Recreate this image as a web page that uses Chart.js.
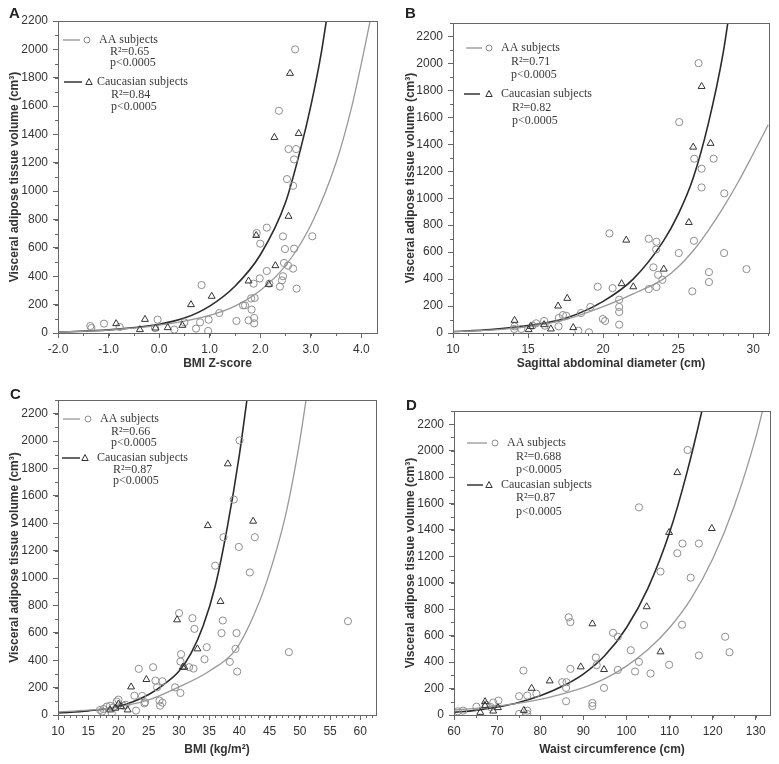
<!DOCTYPE html>
<html>
<head>
<meta charset="utf-8">
<script src="https://cdn.jsdelivr.net/npm/chart.js@4"></script>
<style>
html,body{margin:0;padding:0;background:#fff;}
#wrap{position:relative;width:779px;height:764px;overflow:hidden;}
.p{position:absolute;}
</style>
</head>
<body>
<div id="wrap">
  <div class="p" style="left:0;top:0;width:390px;height:380px;"><canvas id="cA"></canvas></div>
  <div class="p" style="left:390px;top:0;width:389px;height:380px;"><canvas id="cB"></canvas></div>
  <div class="p" style="left:0;top:380px;width:390px;height:384px;"><canvas id="cC"></canvas></div>
  <div class="p" style="left:390px;top:380px;width:389px;height:384px;"><canvas id="cD"></canvas></div>
</div>
<script>
// ---------------- DATA ----------------
const PANEL_LETTERS = ['A', 'B', 'C', 'D'];
const X_TITLES = ['BMI Z-score', 'Sagittal abdominal diameter (cm)', 'BMI (kg/m²)', 'Waist circumference (cm)'];
const Y_TITLE = 'Visceral adipose tissue volume (cm³)';
const SERIES_NAMES = ['AA subjects', 'Caucasian subjects'];
const R2_AA = ['0.65', '0.71', '0.66', '0.688'];
const R2_CAU = ['0.84', '0.82', '0.87', '0.87'];
const P_TEXT = 'p<0.0005';

// Panel A: BMI Z-score
const A_AA = [[-1.36,49],[-1.34,35],[-1.09,66],[-0.78,42],[-0.03,94],[-0.08,35],[0.30,24],[0.50,75],[0.73,31],[0.81,75],[0.84,338],[0.98,94],[0.97,14],[1.19,141],
  [1.53,85],[1.66,195],[1.70,195],[1.77,89],[1.82,244],[1.89,247],[1.83,165],[1.88,106],[1.88,68],[1.87,348],[1.99,385],[1.93,705],[2.0,630],[2.13,743],[2.13,437],[2.18,348],
  [2.39,327],[2.43,371],[2.45,400],[2.45,681],[2.49,592],[2.47,494],[2.55,475],[2.65,454],[2.67,595],[2.72,313],[3.03,682],[2.69,2000],[2.37,1567],[2.56,1297],[2.71,1297],[2.67,1224],[2.53,1085],[2.65,1038]];
const A_CAU = [[-0.85,66],[-0.28,96],[-0.38,24],[-0.07,35],[0.17,38],[0.46,54],[0.63,200],[1.04,259],[1.77,367],[1.92,688],[2.17,343],[2.30,475],[2.56,823],[2.59,1831],[2.28,1379],[2.76,1407]];
const A_FIT_AA = [[-2,7],[-1,20],[0,55],[1,125],[1.5,190],[2,300],[2.5,475],[3,760],[3.5,1200],[3.8,1580],[4.0,1900],[4.2,2250],[4.35,2550]];
const A_FIT_CAU = [[-2,7],[-1,22],[0,62],[0.5,105],[1,190],[1.5,330],[2,550],[2.5,920],[2.8,1300],[3.0,1600],[3.2,1960],[3.35,2300]];

// Panel B: sagittal abdominal diameter
const B_AA = [[26.36,2002],[25.07,1565],[26.07,1293],[27.36,1293],[26.56,1219],[26.56,1080],[28.07,1036],[20.42,739],[23.04,699],[23.55,677],[23.53,620],[26.05,684],[25.04,593],[28.06,593],[29.55,474],
  [23.35,487],[23.66,432],[23.95,395],[23.55,341],[23.04,326],[27.05,452],[27.05,378],[25.94,309],[19.64,343],[20.63,333],[19.15,193],[18.53,148],[17.32,133],[17.54,128],[17.05,111],[17.03,49],
  [16.07,89],[16.12,54],[15.54,72],[15.3,55],[14.55,30],[14.08,30],[14.1,49],[18.35,17],[19.06,5],[19.98,104],[20.13,89],[21.07,247],[21.07,193],[21.07,156],[21.07,62]];
const B_CAU = [[26.56,1829],[26.0,1379],[27.16,1407],[25.71,820],[21.54,689],[24.04,474],[21.23,366],[22.01,343],[17.61,257],[17.0,200],[14.1,94],[15.04,25],[15.18,49],[16.07,62],[16.52,30],[18.01,40]];
const B_FIT_AA = [[10,10],[12.5,22],[15,48],[17.5,100],[20,195],[22,290],[24,400],[25,490],[26,610],[27,760],[28,930],[29,1120],[30,1330],[31,1545]];
const B_FIT_CAU = [[10,10],[12.5,25],[15,55],[17.5,110],[20,235],[22,400],[24,680],[25,880],[26,1150],[27,1550],[28,2080],[28.5,2450]];

// Panel C: BMI
const C_AA = [[40.02,2005],[39.08,1573],[37.37,1298],[42.56,1298],[39.91,1227],[36.0,1090],[41.73,1041],[30.03,744],[32.24,707],[32.57,629],[37.26,690],[37.04,598],[39.53,598],[57.96,685],
  [48.19,459],[39.36,483],[34.6,495],[34.23,407],[38.42,388],[39.64,317],[30.36,444],[30.25,390],[31.69,349],[32.4,339],[29.37,202],[30.25,161],[23.36,337],[25.73,349],[26.12,251],[27.27,246],
  [26.39,202],[23.91,139],[22.64,141],[24.4,93],[24.29,85],[26.78,105],[26.89,68],[27.27,90],[19.99,112],[19.71,98],[18.61,68],[18.06,61],[17.51,44],[16.95,37],[19.16,56],[20.82,68],[22.91,32],[18.9,12],[17.3,25],[21.2,75]];
const C_CAU = [[38.09,1834],[34.78,1383],[42.28,1415],[36.88,829],[29.7,695],[33.07,483],[30.64,349],[30.9,349],[24.62,259],[22.09,205],[21.53,37],[20.43,61],[18.61,37],[19.5,50],[20.0,80]];
const C_FIT_AA = [[10,22],[15,35],[20,60],[25,110],[30,205],[35,320],[39.4,478],[42.3,720],[44.5,970],[47.6,1450],[49.8,1950],[51.2,2350]];
const C_FIT_CAU = [[10,15],[15,30],[20,62],[25,150],[28,240],[30,320],[32,450],[34,650],[36,940],[38,1370],[40,1900],[41.4,2350]];

// Panel D: waist circumference
const D_AA = [[114.2,2005],[102.9,1571],[113.0,1297],[116.8,1297],[111.8,1224],[107.9,1085],[114.9,1039],[86.6,739],[87.0,703],[96.9,622],[98.0,592],[104.1,680],[112.9,683],[122.9,592],[123.9,475],
  [116.8,450],[101.0,490],[92.9,435],[93.1,377],[102.9,402],[109.9,380],[102.0,329],[105.6,314],[98.0,341],[87.0,349],[76.1,336],[85.1,248],[86.1,248],[86.0,205],[94.8,205],[79.1,161],[86.0,104],
  [92.1,91],[92.1,68],[75.1,142],[77.0,147],[70.3,109],[69.1,94],[67.4,78],[65.2,63],[75.1,8],[77.0,33],[77.0,8],[62.1,33],[60.9,28],[68.5,60]];
const D_CAU = [[111.8,1834],[109.9,1381],[119.8,1411],[104.7,819],[92.1,690],[107.9,478],[94.8,344],[89.4,364],[82.2,258],[78.0,202],[67.2,101],[67.2,71],[70.2,56],[69.1,30],[66.1,20],[76.2,35]];
const D_FIT_AA = [[60,38],[65,50],[70,68],[75,90],[80,118],[85,158],[90,207],[95,275],[100,370],[105,495],[110,660],[115,880],[120,1180],[125,1580],[130,2100],[132,2360]];
const D_FIT_CAU = [[60,20],[65,35],[70,60],[75,95],[80,145],[85,215],[90,310],[95,450],[100,660],[105,960],[110,1380],[114,1830],[117.5,2300],[118.5,2450]];

// ---------------- STYLE / LAYOUT ----------------
const SANS = "'Liberation Sans', Arial, sans-serif";
const SERIF = "'Liberation Serif', 'Times New Roman', serif";
const AXIS_COL = '#666';
const GRAY = '#8e8e8e';
const DARK = '#333';

const toXY = arr => arr.map(p => ({x: p[0], y: p[1]}));

const decoPlugin = {
  id: 'deco',
  afterDraw(chart, args, o) {
    const ctx = chart.ctx;
    const ca = chart.chartArea;
    const xs = chart.scales.x, ys = chart.scales.y;
    ctx.save();
    // frame
    ctx.strokeStyle = AXIS_COL;
    ctx.lineWidth = 1;
    ctx.strokeRect(Math.round(ca.left) + 0.5, Math.round(ca.top) + 0.5, Math.round(ca.right - ca.left), Math.round(ca.bottom - ca.top));
    // minor ticks
    ctx.beginPath();
    const xi0 = Math.ceil(xs.min / o.minorX - 1e-9), xi1 = Math.floor(xs.max / o.minorX + 1e-9);
    for (let i = xi0; i <= xi1; i++) {
      const v = i * o.minorX;
      const px = Math.round(xs.getPixelForValue(v)) + 0.5;
      ctx.moveTo(px, ca.bottom); ctx.lineTo(px, ca.bottom + 3);
    }
    const yi1 = Math.floor(ys.max / o.minorY + 1e-9);
    for (let i = 0; i <= yi1; i++) {
      const v = i * o.minorY;
      const py = Math.round(ys.getPixelForValue(v)) + 0.5;
      ctx.moveTo(ca.left, py); ctx.lineTo(ca.left - 3, py);
    }
    ctx.stroke();
    // panel letter
    ctx.fillStyle = '#222';
    ctx.font = 'bold 15px ' + SANS;
    ctx.textBaseline = 'middle';
    ctx.textAlign = 'left';
    ctx.fillText(o.letter, o.letterPos[0], o.letterPos[1]);
    // legend
    const L = o.legend;
    ctx.font = '12px ' + SERIF;
    ctx.fillStyle = '#3a3a3a';
    // AA row
    ctx.strokeStyle = GRAY; ctx.lineWidth = 1.2;
    ctx.beginPath(); ctx.moveTo(L.aa.l0, L.aa.y); ctx.lineTo(L.aa.l1, L.aa.y); ctx.stroke();
    ctx.lineWidth = 1;
    ctx.beginPath(); ctx.arc(L.aa.m, L.aa.y, 3, 0, Math.PI * 2); ctx.stroke();
    ctx.fillText(SERIES_NAMES[0], L.aa.t, L.aa.y);
    ctx.fillText('R²=' + o.r2aa, L.aa.r, L.aa.y2);
    ctx.fillText(P_TEXT, L.aa.r, L.aa.y3);
    // Caucasian row
    ctx.strokeStyle = DARK; ctx.lineWidth = 1.5;
    ctx.beginPath(); ctx.moveTo(L.ca.l0, L.ca.y); ctx.lineTo(L.ca.l1, L.ca.y); ctx.stroke();
    ctx.lineWidth = 1;
    ctx.beginPath();
    ctx.moveTo(L.ca.m, L.ca.y - 3.5); ctx.lineTo(L.ca.m + 3.2, L.ca.y + 2.5); ctx.lineTo(L.ca.m - 3.2, L.ca.y + 2.5); ctx.closePath();
    ctx.stroke();
    ctx.fillText(SERIES_NAMES[1], L.ca.t, L.ca.y);
    ctx.fillText('R²=' + o.r2ca, L.ca.r, L.ca.y2);
    ctx.fillText(P_TEXT, L.ca.r, L.ca.y3);
    ctx.restore();
  }
};

function makePanel(id, P) {
  const dsFit = (data, color, w) => ({
    data: toXY(data), showLine: true, borderColor: color, borderWidth: w,
    pointRadius: 0, pointHoverRadius: 0, cubicInterpolationMode: 'monotone', fill: false, order: 2
  });
  return new Chart(document.getElementById(id), {
    type: 'scatter',
    data: {
      datasets: [
        dsFit(P.fitAA, '#999', 1.3),
        dsFit(P.fitCA, '#2b2b2b', 1.6),
        { data: toXY(P.aa), pointStyle: 'circle', pointRadius: 3.6, borderColor: GRAY, borderWidth: 1,
          backgroundColor: 'rgba(0,0,0,0)', showLine: false, order: 1 },
        { data: toXY(P.ca), pointStyle: 'triangle', pointRadius: 4, borderColor: DARK, borderWidth: 1,
          backgroundColor: 'rgba(0,0,0,0)', showLine: false, order: 0 }
      ]
    },
    options: {
      responsive: true, maintainAspectRatio: false, animation: false,
      events: [],
      layout: { padding: P.pad },
      plugins: {
        legend: { display: false }, tooltip: { enabled: false },
        deco: P.deco
      },
      scales: {
        x: {
          type: 'linear', min: P.xmin, max: P.xmax,
          ticks: { stepSize: P.xstep, includeBounds: false, autoSkip: false, maxRotation: 0, padding: 4, color: '#333',
                   font: { family: SANS, size: 12 },
                   callback: v => P.xfmt(v) },
          afterBuildTicks: s => { s.ticks = s.ticks.filter(t => t.value <= P.xlast + 1e-6); },
          afterFit: s => { s.height = P.xh; },
          grid: { drawOnChartArea: false, drawTicks: true, tickLength: 5, color: AXIS_COL },
          border: { display: true, color: AXIS_COL },
          title: { display: true, text: P.xtitle, color: '#333', font: { family: SANS, size: 12, weight: 'bold' },
                   padding: { top: 0, bottom: P.xtpad } }
        },
        y: {
          type: 'linear', min: 0, max: P.ymax,
          ticks: { stepSize: 200, includeBounds: false, autoSkip: false, padding: 5, color: '#333',
                   font: { family: SANS, size: 12 }, callback: v => String(Math.round(v)) },
          afterBuildTicks: s => { s.ticks = s.ticks.filter(t => t.value <= 2200 + 1e-6); },
          afterFit: s => { s.width = P.yw; },
          grid: { drawOnChartArea: false, drawTicks: true, tickLength: 5, color: AXIS_COL },
          border: { display: true, color: AXIS_COL },
          title: { display: true, text: Y_TITLE, color: '#333', font: { family: SANS, size: 12, weight: 'bold' },
                   padding: { top: P.ytpad, bottom: 0 } }
        }
      }
    },
    plugins: [decoPlugin]
  });
}

const fix1 = v => v.toFixed(1);
const fix0 = v => String(Math.round(v));

makePanel('cA', {
  aa: A_AA, ca: A_CAU, fitAA: A_FIT_AA, fitCA: A_FIT_CAU,
  xmin: -2, xmax: 4.31, xstep: 1, xlast: 4, xfmt: fix1, ymax: 2200,
  pad: { top: 21, right: 13, bottom: 0, left: 0 }, yw: 58, xh: 47, xtpad: 9, ytpad: 7,
  xtitle: X_TITLES[0],
  deco: { letter: PANEL_LETTERS[0], letterPos: [9, 14], minorX: 0.5, minorY: 100, r2aa: R2_AA[0], r2ca: R2_CAU[0],
    legend: { aa: { l0: 63, l1: 80, m: 87, t: 99, r: 110, y: 40, y2: 52, y3: 63 },
              ca: { l0: 64, l1: 82, m: 89, t: 97, r: 111, y: 82, y2: 95, y3: 107 } } }
});
makePanel('cB', {
  aa: B_AA, ca: B_CAU, fitAA: B_FIT_AA, fitCA: B_FIT_CAU,
  xmin: 10, xmax: 31.05, xstep: 5, xlast: 30, xfmt: fix0, ymax: 2300,
  pad: { top: 23, right: 10, bottom: 0, left: 0 }, yw: 63, xh: 47, xtpad: 9, ytpad: 13,
  xtitle: X_TITLES[1],
  deco: { letter: PANEL_LETTERS[1], letterPos: [15, 14], minorX: 1, minorY: 100, r2aa: R2_AA[1], r2ca: R2_CAU[1],
    legend: { aa: { l0: 76, l1: 92, m: 99, t: 111, r: 121, y: 48, y2: 62, y3: 75 },
              ca: { l0: 74, l1: 90, m: 99, t: 111, r: 122, y: 94, y2: 108, y3: 121 } } }
});
makePanel('cC', {
  aa: C_AA, ca: C_CAU, fitAA: C_FIT_AA, fitCA: C_FIT_CAU,
  xmin: 10, xmax: 62.6, xstep: 5, xlast: 60, xfmt: fix0, ymax: 2300,
  pad: { top: 20, right: 14, bottom: 0, left: 0 }, yw: 58, xh: 49, xtpad: 7, ytpad: 7,
  xtitle: X_TITLES[2],
  deco: { letter: PANEL_LETTERS[2], letterPos: [10, 15], minorX: 1, minorY: 100, r2aa: R2_AA[2], r2ca: R2_CAU[2],
    legend: { aa: { l0: 63, l1: 80, m: 88, t: 100, r: 111, y: 39, y2: 52, y3: 63 },
              ca: { l0: 62, l1: 80, m: 85, t: 97, r: 113, y: 78, y2: 90, y3: 101 } } }
});
makePanel('cD', {
  aa: D_AA, ca: D_CAU, fitAA: D_FIT_AA, fitCA: D_FIT_CAU,
  xmin: 60, xmax: 133.3, xstep: 10, xlast: 130, xfmt: fix0, ymax: 2300,
  pad: { top: 31, right: 9, bottom: 0, left: 0 }, yw: 64, xh: 49, xtpad: 7, ytpad: 13,
  xtitle: X_TITLES[3],
  deco: { letter: PANEL_LETTERS[3], letterPos: [16, 26], minorX: 5, minorY: 100, r2aa: R2_AA[3], r2ca: R2_CAU[3],
    legend: { aa: { l0: 77, l1: 97, m: 105, t: 117, r: 126, y: 63, y2: 77, y3: 90 },
              ca: { l0: 77, l1: 93, m: 99, t: 111, r: 126, y: 105, y2: 118, y3: 132 } } }
});
</script>
</body>
</html>
